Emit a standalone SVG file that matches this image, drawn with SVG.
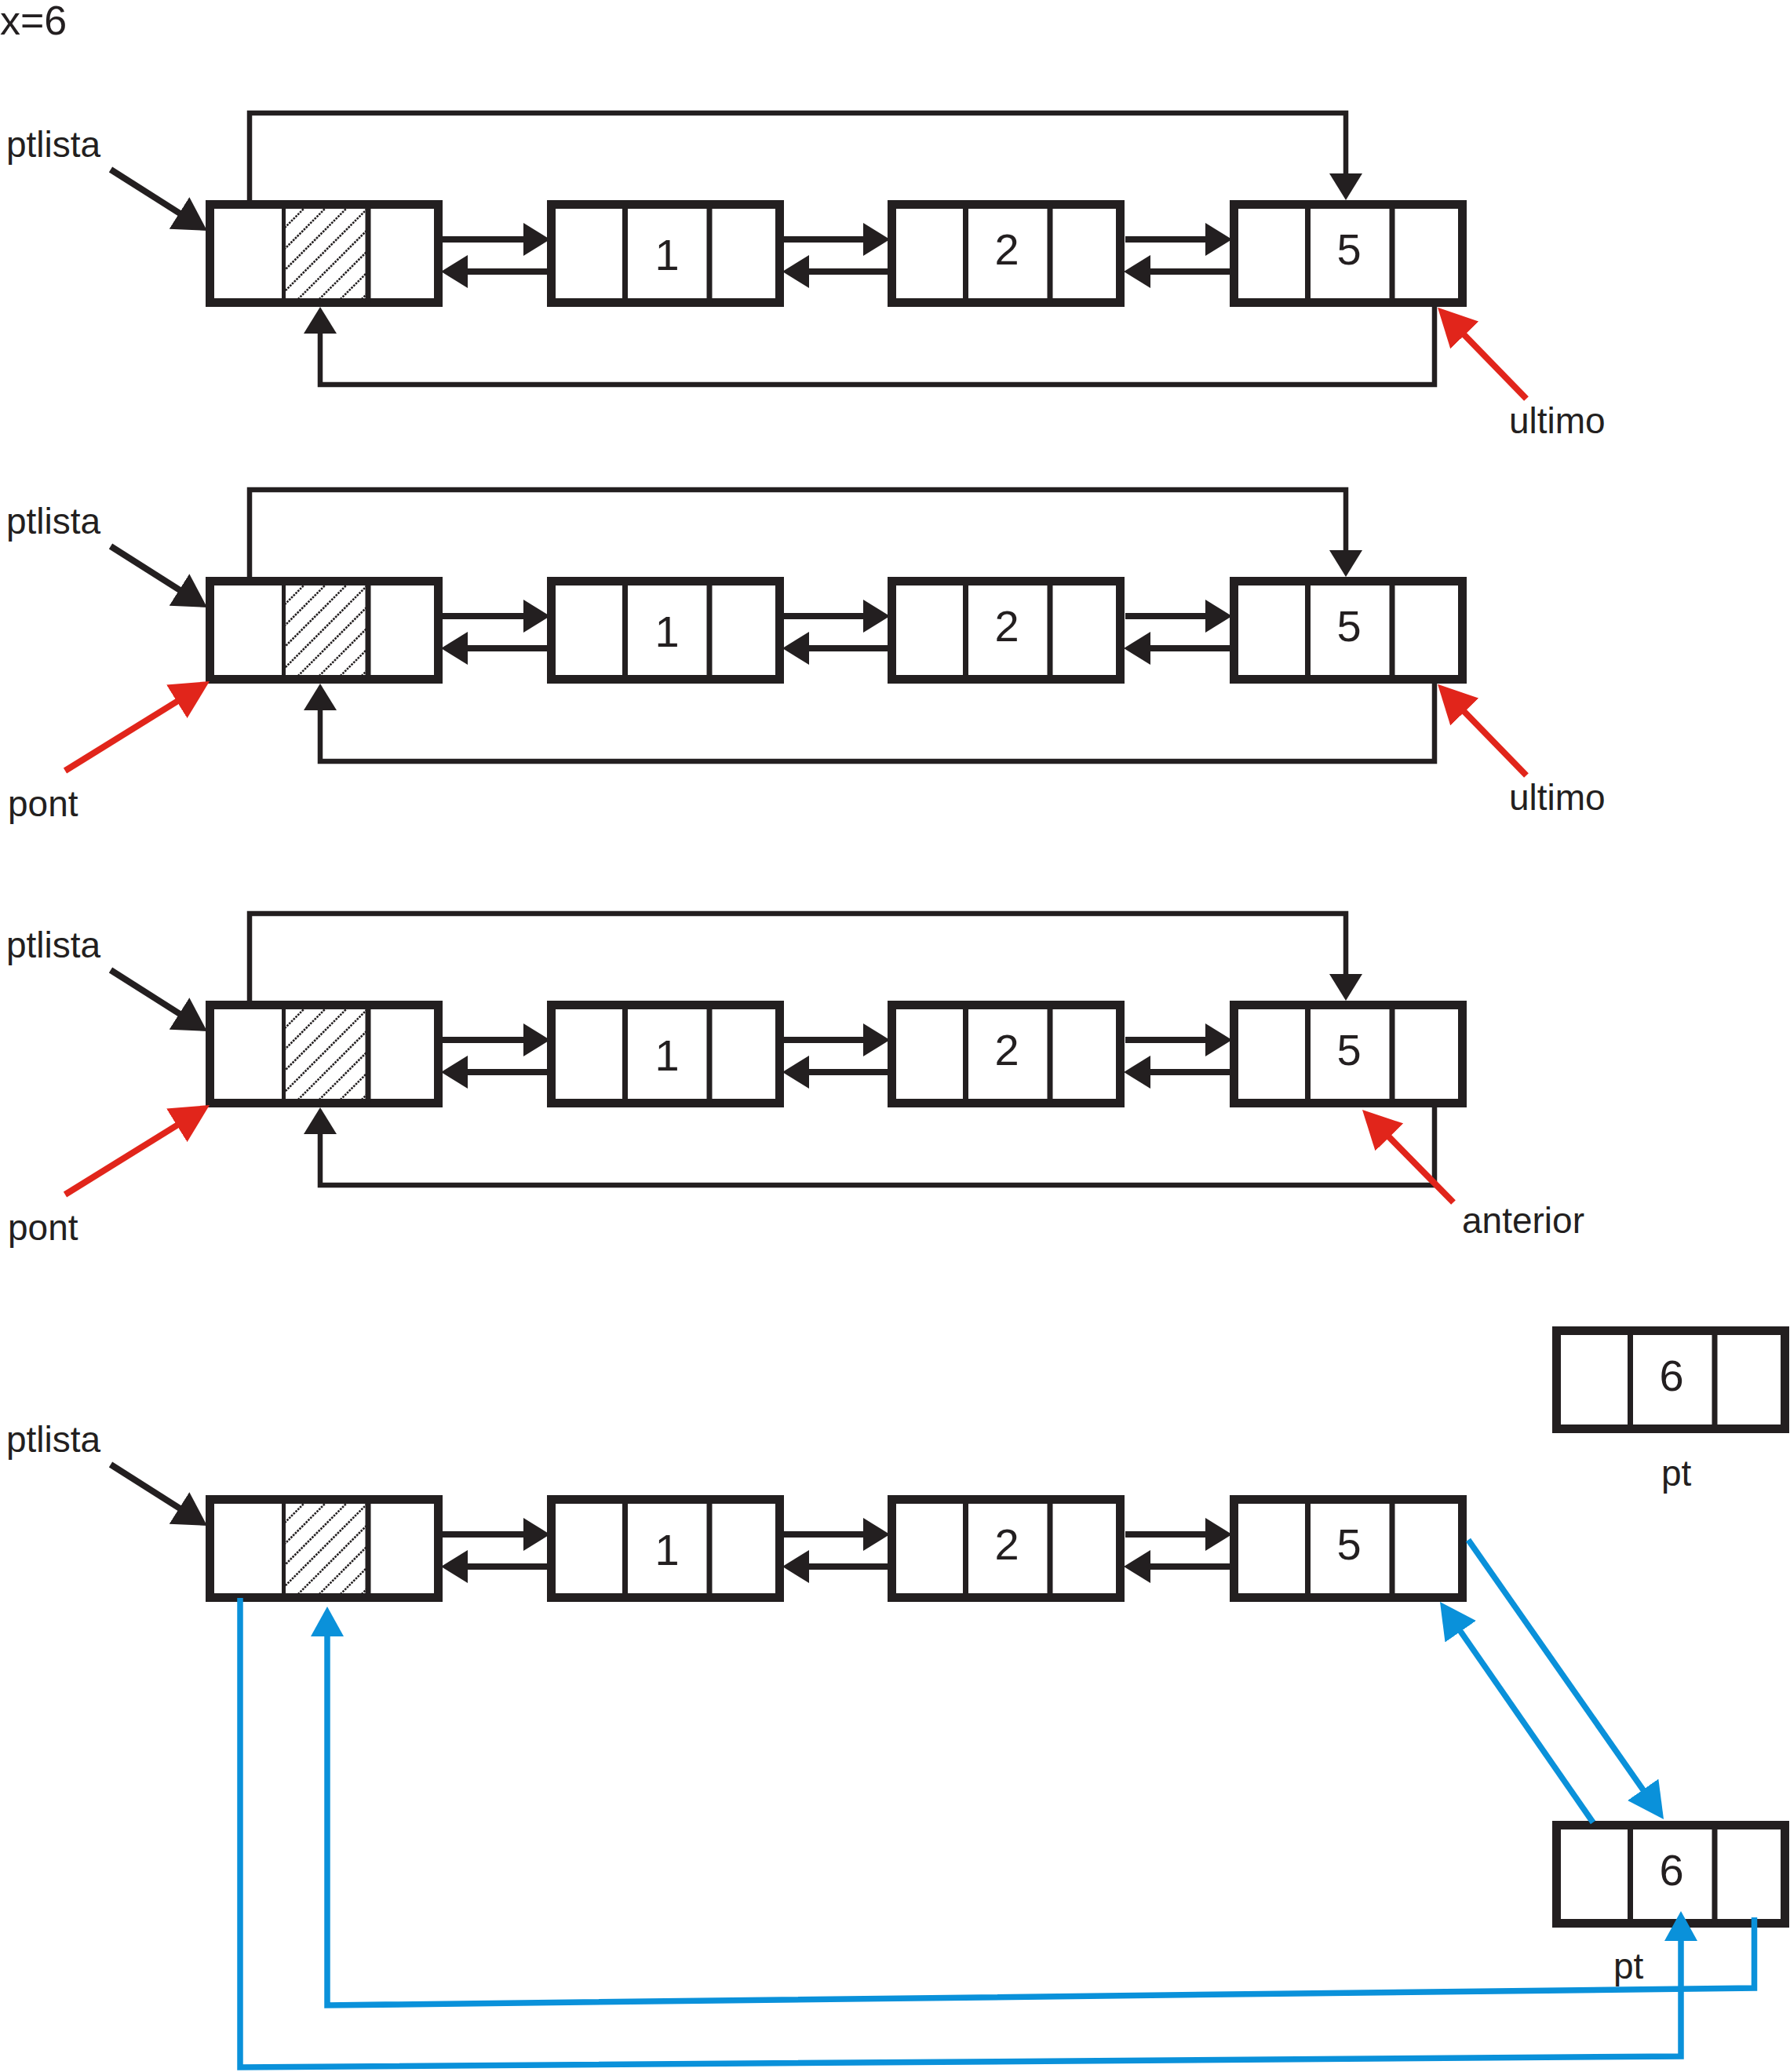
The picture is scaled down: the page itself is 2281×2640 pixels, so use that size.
<svg xmlns="http://www.w3.org/2000/svg" xmlns:xlink="http://www.w3.org/1999/xlink" width="2281" height="2640" viewBox="0 0 2281 2640">
  <style>
    .box { fill: #ffffff; stroke: #231f20; stroke-width: 11; }
    .div { stroke: #231f20; stroke-width: 7; }
    .div-thin { stroke: #231f20; stroke-width: 5; }
    .hatch { stroke: #231f20; stroke-width: 2.6; stroke-dasharray: 2.6 1.3; fill: none; }
    .label { font-family: "Liberation Sans", Arial, Helvetica, sans-serif; font-size: 46px; fill: #231f20; }
    .digit { font-family: "Liberation Sans", Arial, Helvetica, sans-serif; font-size: 56px; fill: #231f20; text-anchor: middle; }
    .link { fill: none; stroke: #231f20; stroke-width: 8; marker-end: url(#ah); }
    .loop { fill: none; stroke: #231f20; stroke-width: 6.5; stroke-linejoin: miter; marker-end: url(#ah); }
    .ptr { fill: none; stroke: #231f20; stroke-width: 8; marker-end: url(#ah-big); }
    .red { fill: none; stroke: #e1251b; stroke-width: 8; marker-end: url(#ah-red); }
    .blue { fill: none; stroke: #0a91da; stroke-width: 7.5; marker-end: url(#ah-blue); }
    .blue-s { fill: none; stroke: #0a91da; stroke-width: 7.5; stroke-linejoin: miter; marker-end: url(#ah-blue-s); }
  </style>
  <defs>
    <marker id="ah" viewBox="0 0 34 42" refX="24" refY="21" markerWidth="34" markerHeight="42" markerUnits="userSpaceOnUse" orient="auto">
      <path d="M0,0 L34,21 L0,42 Z" fill="#231f20"/>
    </marker>
    <marker id="ah-big" viewBox="0 0 42 48" refX="32" refY="24" markerWidth="42" markerHeight="48" markerUnits="userSpaceOnUse" orient="auto">
      <path d="M0,0 L42,24 L0,48 Z" fill="#231f20"/>
    </marker>
    <marker id="ah-red" viewBox="0 0 49 50" refX="39" refY="25" markerWidth="49" markerHeight="50" markerUnits="userSpaceOnUse" orient="auto">
      <path d="M0,0 L49,25 L0,50 Z" fill="#e1251b"/>
    </marker>
    <marker id="ah-blue" viewBox="0 0 46 48" refX="36" refY="24" markerWidth="46" markerHeight="48" markerUnits="userSpaceOnUse" orient="auto">
      <path d="M0,0 L46,24 L0,48 Z" fill="#0a91da"/>
    </marker>
    <marker id="ah-blue-s" viewBox="0 0 38 42" refX="28" refY="21" markerWidth="38" markerHeight="42" markerUnits="userSpaceOnUse" orient="auto">
      <path d="M0,0 L38,21 L0,42 Z" fill="#0a91da"/>
    </marker>
    <clipPath id="hatch-clip" clipPathUnits="userSpaceOnUse">
      <rect x="102" y="11" width="102" height="114"/>
    </clipPath>
    <!-- three-field list cell: prev | info | next -->
    <g id="cell">
      <rect class="box" x="5.5" y="5.5" width="291" height="125"/>
      <line class="div" x1="99.5" y1="5" x2="99.5" y2="131"/>
      <line class="div" x1="207" y1="5" x2="207" y2="131"/>
    </g>
    <!-- header cell with hatched (empty) info field -->
    <g id="head-cell">
      <rect class="box" x="5.5" y="5.5" width="291" height="125"/>
      <path class="hatch" clip-path="url(#hatch-clip)" d="M-4,140 L141,-5 M23,140 L168,-5 M50,140 L195,-5 M77,140 L222,-5 M104,140 L249,-5 M131,140 L276,-5 M158,140 L303,-5 M185,140 L330,-5"/>
      <line class="div-thin" x1="99.5" y1="5" x2="99.5" y2="131"/>
      <line class="div" x1="207" y1="5" x2="207" y2="131"/>
    </g>
  </defs>

  <rect width="2281" height="2640" fill="#ffffff"/>

  <text class="label" x="0" y="44" style="font-size:52px">x=6</text>

  <!-- ===== Row 1 ===== -->
  <g id="r1-head" transform="translate(262,255)"><use href="#head-cell"/></g>
  <g id="r1-n1" transform="translate(697,255)"><use href="#cell"/><text class="digit" x="153" y="89">1</text></g>
  <g id="r1-n2" transform="translate(1131,255)"><use href="#cell"/><text class="digit" x="152" y="82">2</text></g>
  <g id="r1-n5" transform="translate(1567,255)"><use href="#cell"/><text class="digit" x="152" y="82">5</text></g>

  <!-- ===== Row 2 ===== -->
  <g id="r2-head" transform="translate(262,735)"><use href="#head-cell"/></g>
  <g id="r2-n1" transform="translate(697,735)"><use href="#cell"/><text class="digit" x="153" y="89">1</text></g>
  <g id="r2-n2" transform="translate(1131,735)"><use href="#cell"/><text class="digit" x="152" y="82">2</text></g>
  <g id="r2-n5" transform="translate(1567,735)"><use href="#cell"/><text class="digit" x="152" y="82">5</text></g>

  <!-- ===== Row 3 ===== -->
  <g id="r3-head" transform="translate(262,1275)"><use href="#head-cell"/></g>
  <g id="r3-n1" transform="translate(697,1275)"><use href="#cell"/><text class="digit" x="153" y="89">1</text></g>
  <g id="r3-n2" transform="translate(1131,1275)"><use href="#cell"/><text class="digit" x="152" y="82">2</text></g>
  <g id="r3-n5" transform="translate(1567,1275)"><use href="#cell"/><text class="digit" x="152" y="82">5</text></g>

  <!-- new node (before linking) -->
  <g id="new-node" transform="translate(1978,1690)"><use href="#cell"/><text class="digit" x="152" y="82">6</text></g>

  <!-- ===== Row 4 ===== -->
  <g id="r4-head" transform="translate(262,1905)"><use href="#head-cell"/></g>
  <g id="r4-n1" transform="translate(697,1905)"><use href="#cell"/><text class="digit" x="153" y="89">1</text></g>
  <g id="r4-n2" transform="translate(1131,1905)"><use href="#cell"/><text class="digit" x="152" y="82">2</text></g>
  <g id="r4-n5" transform="translate(1567,1905)"><use href="#cell"/><text class="digit" x="152" y="82">5</text></g>
  <g id="r4-n6" transform="translate(1978,2320)"><use href="#cell"/><text class="digit" x="152" y="82">6</text></g>

  <!-- labels -->
  <g id="labels">
    <text class="label" x="8" y="200">ptlista</text>
    <text class="label" x="1923" y="552">ultimo</text>
    <text class="label" x="8" y="680">ptlista</text>
    <text class="label" x="10" y="1040">pont</text>
    <text class="label" x="1923" y="1032">ultimo</text>
    <text class="label" x="8" y="1220">ptlista</text>
    <text class="label" x="10" y="1580">pont</text>
    <text class="label" x="1863" y="1571">anterior</text>
    <text class="label" x="2117" y="1893">pt</text>
    <text class="label" x="8" y="1850">ptlista</text>
    <text class="label" x="2056" y="2521">pt</text>
  </g>

  <g id="connectors">
    <!-- row 1 -->
    <path class="ptr" d="M141,216 L255.5,288.6"/>
    <path class="loop" d="M318,258 V144 H1715 V245"/>
    <path class="loop" d="M1828,388 V490 H408 V401"/>
    <path class="link" d="M564,305 H691"/>
    <path class="link" d="M999,305 H1124"/>
    <path class="link" d="M1434,305 H1560"/>
    <path class="link" d="M697,346 H572"/>
    <path class="link" d="M1131,346 H1007"/>
    <path class="link" d="M1567,346 H1442"/>
    <path class="red" d="M1945,508 L1839,399"/>

    <!-- row 2 -->
    <path class="ptr" d="M141,696 L255.5,768.6"/>
    <path class="loop" d="M318,738 V624 H1715 V725"/>
    <path class="loop" d="M1828,868 V970 H408 V881"/>
    <path class="link" d="M564,785 H691"/>
    <path class="link" d="M999,785 H1124"/>
    <path class="link" d="M1434,785 H1560"/>
    <path class="link" d="M697,826 H572"/>
    <path class="link" d="M1131,826 H1007"/>
    <path class="link" d="M1567,826 H1442"/>
    <path class="red" d="M1945,988 L1839,879"/>
    <path class="red" d="M83,982 L258.5,873.3"/>

    <!-- row 3 -->
    <path class="ptr" d="M141,1236 L255.5,1308.6"/>
    <path class="loop" d="M318,1278 V1164 H1715 V1265"/>
    <path class="loop" d="M1828,1408 V1510 H408 V1421"/>
    <path class="link" d="M564,1325 H691"/>
    <path class="link" d="M999,1325 H1124"/>
    <path class="link" d="M1434,1325 H1560"/>
    <path class="link" d="M697,1366 H572"/>
    <path class="link" d="M1131,1366 H1007"/>
    <path class="link" d="M1567,1366 H1442"/>
    <path class="red" d="M83,1522 L258.5,1413.3"/>
    <path class="red" d="M1852,1532 L1743,1421.1"/>

    <!-- row 4 -->
    <path class="ptr" d="M141,1866 L255.5,1938.6"/>
    <path class="link" d="M564,1955 H691"/>
    <path class="link" d="M999,1955 H1124"/>
    <path class="link" d="M1434,1955 H1560"/>
    <path class="link" d="M697,1996 H572"/>
    <path class="link" d="M1131,1996 H1007"/>
    <path class="link" d="M1567,1996 H1442"/>

    <!-- new node linked in -->
    <path class="blue" d="M1871,1962 L2114.3,2309.8"/>
    <path class="blue" d="M2030,2322 L1840.7,2049.2"/>
    <path class="blue-s" d="M2235.5,2443 V2533 L417,2555 V2057"/>
    <path class="blue-s" d="M306,2036 V2634 L2142,2620 V2445"/>
  </g>
</svg>
